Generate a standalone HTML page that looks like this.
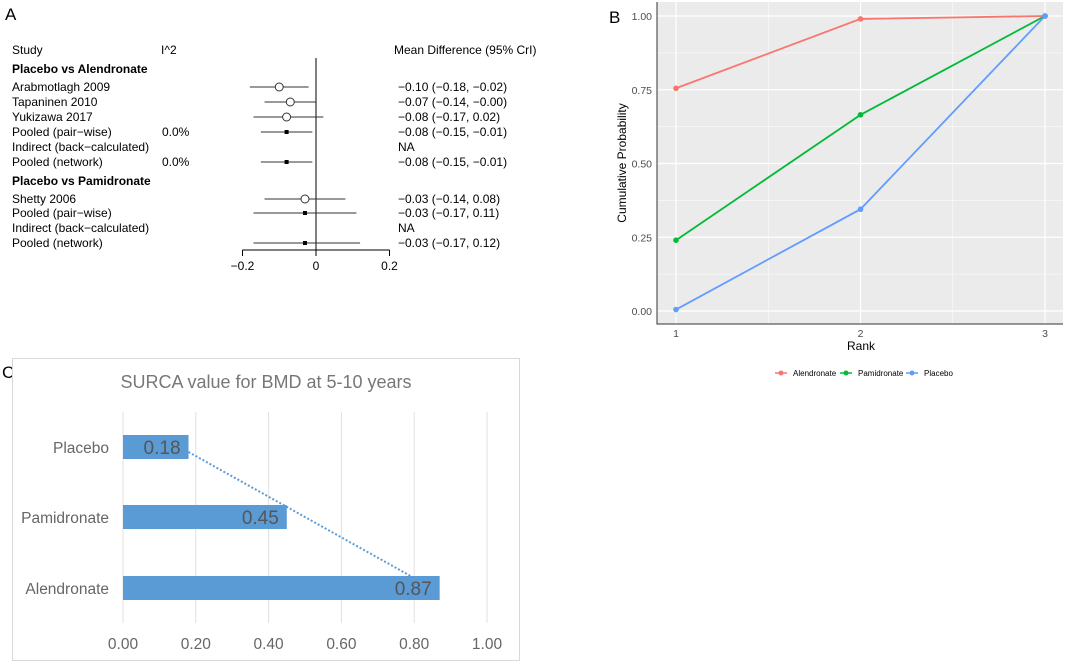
<!DOCTYPE html>
<html><head><meta charset="utf-8"><style>
body{margin:0;background:#fff;width:1065px;height:664px;overflow:hidden;font-family:"Liberation Sans",sans-serif}
svg{position:absolute;left:0;top:0}
</style></head><body>
<svg width="1065" height="664" xmlns="http://www.w3.org/2000/svg">
<g id="A" font-family="Liberation Sans, sans-serif" font-size="12" fill="#000"></g>
<g id="B" font-family="Liberation Sans, sans-serif"></g>
<g id="C" font-family="Liberation Sans, sans-serif"></g>
</svg>
<script>
// ---- Panel A data ----
const forestLabels=["Arabmotlagh 2009","Tapaninen 2010","Yukizawa 2017","Pooled (pair\u2212wise)","Indirect (back\u2212calculated)","Pooled (network)","Shetty 2006","Pooled (pair\u2212wise)","Indirect (back\u2212calculated)","Pooled (network)"];
const forestMean=[-0.10,-0.07,-0.08,-0.08,null,-0.08,-0.03,-0.03,null,-0.03];
const forestLow=[-0.18,-0.14,-0.17,-0.15,null,-0.15,-0.14,-0.17,null,-0.17];
const forestHigh=[-0.02,-0.00,0.02,-0.01,null,-0.01,0.08,0.11,null,0.12];
const forestType=["study","study","study","pooled","na","pooled","study","pooled","na","pooled"];
const forestI2=["","","","0.0%","","0.0%","","","",""];
const forestText=["\u22120.10 (\u22120.18, \u22120.02)","\u22120.07 (\u22120.14, \u22120.00)","\u22120.08 (\u22120.17, 0.02)","\u22120.08 (\u22120.15, \u22120.01)","NA","\u22120.08 (\u22120.15, \u22120.01)","\u22120.03 (\u22120.14, 0.08)","\u22120.03 (\u22120.17, 0.11)","NA","\u22120.03 (\u22120.17, 0.12)"];
const forestTicks=[-0.2,0,0.2];
const forestTickLabels=["\u22120.2","0","0.2"];
// ---- Panel B data ----
const rankX=[1,2,3];
const rankTicksY=[0,0.25,0.5,0.75,1];
const rankTickLabels=["0.00","0.25","0.50","0.75","1.00"];
const seriesNames=["Alendronate","Pamidronate","Placebo"];
const alendronateVals=[0.755,0.99,1.0];
const pamidronateVals=[0.24,0.665,1.0];
const placeboVals=[0.005,0.345,1.0];
// ---- Panel C data ----
const surcaCats=["Placebo","Pamidronate","Alendronate"];
const surcaVals=[0.18,0.45,0.87];
const surcaTicks=[0,0.2,0.4,0.6,0.8,1.0];

const NS="http://www.w3.org/2000/svg";
function mk(p,tag,at,txt){const e=document.createElementNS(NS,tag);for(const k in at)e.setAttribute(k,at[k]);if(txt!==undefined)e.textContent=txt;p.appendChild(e);return e;}

// ===== Panel A =====
const A=document.getElementById('A');
const ax=v=>316+(v/0.2)*73.5;
let t;
t=mk(A,'text',{x:5,y:20,'font-size':17},'A');


t=mk(A,'text',{x:12,y:54},'Study');


t=mk(A,'text',{x:161,y:54},'I^2');


t=mk(A,'text',{x:394,y:54},'Mean Difference (95% CrI)');


t=mk(A,'text',{x:12,y:73,'font-weight':'bold'},'Placebo vs Alendronate');


t=mk(A,'text',{x:12,y:185,'font-weight':'bold'},'Placebo vs Pamidronate');


const rowY=[87,102,117,132,147,162,199,213,228,243];
let l=mk(A,'line',{x1:ax(0),x2:ax(0),y1:58,y2:250,stroke:'#000','stroke-width':1});


forestLabels.forEach((lab,i)=>{
  const y=rowY[i];
  let e=mk(A,'text',{x:12,y:y+4},lab);
  
  
  if(forestI2[i]){e=mk(A,'text',{x:162,y:y+4},forestI2[i]);
    
    }
  e=mk(A,'text',{x:398,y:y+4},forestText[i]);
  
  
  if(forestMean[i]!==null){
    e=mk(A,'line',{x1:ax(forestLow[i]),x2:ax(forestHigh[i]),y1:y,y2:y,stroke:'#333','stroke-width':1});
    
    
    if(forestType[i]==='study'){e=mk(A,'circle',{cx:ax(forestMean[i]),cy:y,r:4,fill:'#fff',stroke:'#333'});}
    else{e=mk(A,'rect',{x:ax(forestMean[i])-2,y:y-2,width:4,height:4,fill:'#000'});}
    
    
  }
});
l=mk(A,'line',{x1:ax(-0.2),x2:ax(0.2),y1:250,y2:250,stroke:'#000'});


forestTicks.forEach((v,i)=>{
  let e=mk(A,'line',{x1:ax(v),x2:ax(v),y1:250,y2:256,stroke:'#000'});
  
  
  e=mk(A,'text',{x:ax(v),y:270,'text-anchor':'middle'},forestTickLabels[i]);
  
  
});

// ===== Panel B =====
const B=document.getElementById('B');
const bx=r=>676+(r-1)*184.5;
const by=v=>311-v*295;
t=mk(B,'text',{x:609,y:23,'font-size':17},'B');


let bg=mk(B,'rect',{x:657,y:2,width:406,height:322,fill:'#ebebeb'});


for(let v=0.125;v<1.1;v+=0.25){const e=mk(B,'line',{x1:657,x2:1063,y1:by(v),y2:by(v),stroke:'#fff','stroke-width':0.5});
  
  }
[1.5,2.5].forEach(r=>{const e=mk(B,'line',{x1:bx(r),x2:bx(r),y1:2,y2:324,stroke:'#fff','stroke-width':0.5});
  
  });
rankTicksY.forEach((v,i)=>{
  let e=mk(B,'line',{x1:657,x2:1063,y1:by(v),y2:by(v),stroke:'#fff','stroke-width':1.2});
  
  
  e=mk(B,'text',{x:652,y:by(v)+4,'text-anchor':'end','font-size':10.5,fill:'#4d4d4d'},rankTickLabels[i]);
  
  
});
rankX.forEach(r=>{
  let e=mk(B,'line',{x1:bx(r),x2:bx(r),y1:2,y2:324,stroke:'#fff','stroke-width':1.2});
  
  
  e=mk(B,'text',{x:bx(r),y:337,'text-anchor':'middle','font-size':10.5,fill:'#4d4d4d'},String(r));
  
  
});
l=mk(B,'path',{d:'M657 2V324H1063',fill:'none',stroke:'#333','stroke-width':1});


t=mk(B,'text',{x:861,y:350,'text-anchor':'middle','font-size':12},'Rank');


t=mk(B,'text',{x:0,y:0,'text-anchor':'middle','font-size':12,transform:'translate(626,163) rotate(-90)'},'Cumulative Probability');


const colors=['#f8766d','#00ba38','#619cff'];
[alendronateVals,pamidronateVals,placeboVals].forEach((vals,k)=>{
  const p=mk(B,'polyline',{points:vals.map((v,i)=>bx(rankX[i])+','+by(v)).join(' '),fill:'none',stroke:colors[k],'stroke-width':1.8});
  
  
  vals.forEach((v,i)=>{const c=mk(B,'circle',{cx:bx(rankX[i]),cy:by(v),r:2.8,fill:colors[k]});
    
    });
});
const legX=[781,846,912];
seriesNames.forEach((n,k)=>{
  let e=mk(B,'line',{x1:legX[k]-6,x2:legX[k]+6,y1:373,y2:373,stroke:colors[k],'stroke-width':1.5});
  
  
  e=mk(B,'circle',{cx:legX[k],cy:373,r:2.5,fill:colors[k]});
  
  
  e=mk(B,'text',{x:legX[k]+12,y:376,'font-size':8},n);
  
  
});

// ===== Panel C =====
const C=document.getElementById('C');
const cx=v=>123+v*364;
const cy=[447,517,588];
t=mk(C,'text',{x:2,y:378,'font-size':17},'C');


let box=mk(C,'rect',{x:12.5,y:358.5,width:507,height:302,fill:'#fff',stroke:'#d9d9d9'});


t=mk(C,'text',{x:266,y:388,'text-anchor':'middle','font-size':18,fill:'#777'},'SURCA value for BMD at 5-10 years');


surcaTicks.forEach(v=>{
  let e=mk(C,'line',{x1:cx(v),x2:cx(v),y1:412,y2:623,stroke:'#e0e0e0'});
  
  
  e=mk(C,'text',{x:cx(v),y:649,'text-anchor':'middle','font-size':15.5,fill:'#666'},v.toFixed(2));
  
  
});
surcaCats.forEach((c,i)=>{
  let e=mk(C,'rect',{x:cx(0),y:cy[i]-12,width:cx(surcaVals[i])-cx(0),height:24,fill:'#5b9bd5'});
  
  
  e=mk(C,'text',{x:cx(surcaVals[i])-8,y:cy[i]+7,'text-anchor':'end','font-size':19,fill:'#555'},surcaVals[i].toFixed(2));
  
  
  e=mk(C,'text',{x:109,y:cy[i]+6,'text-anchor':'end','font-size':15.5,fill:'#666'},c);
  
  
});
// trendline: from end of first bar to near last bar
const tr=mk(C,'line',{x1:cx(surcaVals[0]),y1:cy[0]+5,x2:cx(surcaVals[2]-0.08),y2:cy[2]-12,stroke:'#5b9bd5','stroke-width':2,'stroke-dasharray':'2,2'});


</script>
</body></html>
